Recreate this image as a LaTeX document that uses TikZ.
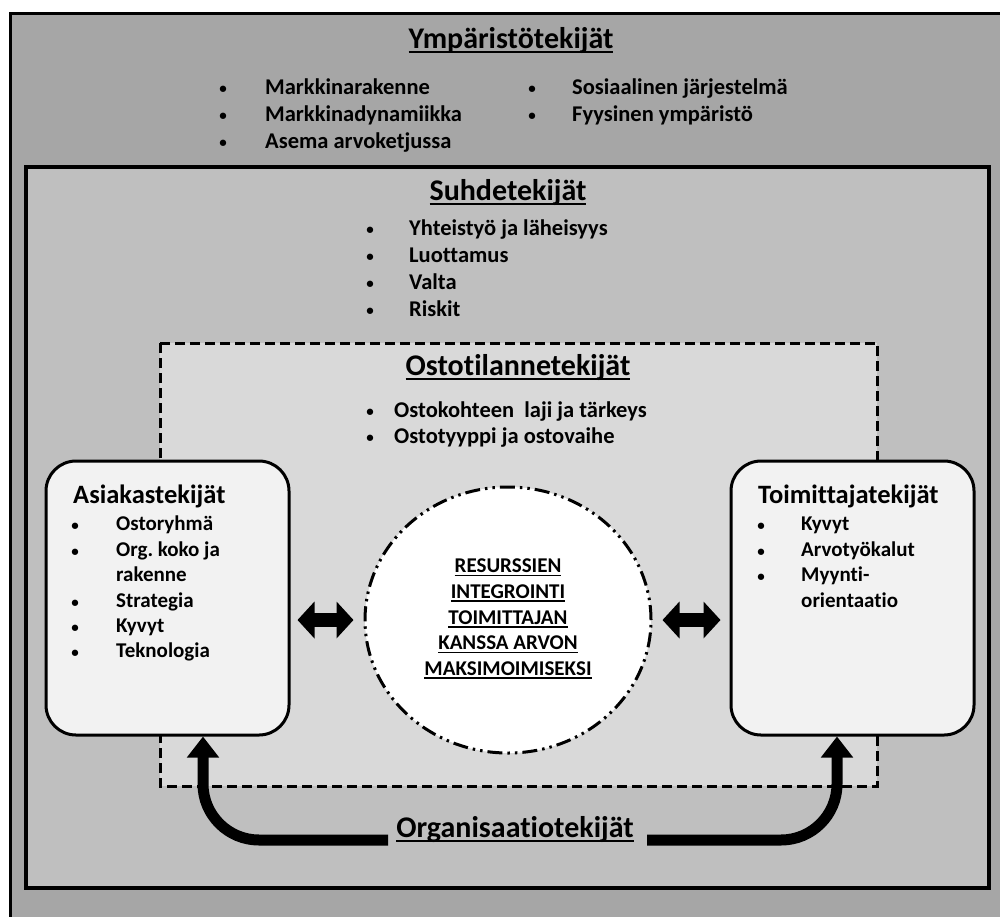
\documentclass[tikz,border=0pt]{standalone}
\usepackage{fontspec}
\setmainfont{Carlito}[Ligatures={NoCommon}]
\usetikzlibrary{arrows.meta,shapes.geometric}
\frenchspacing

% underline drawn as a rule at a fixed depth below the baseline
\newsavebox\ulinebox
\newcommand\ulined[1]{\sbox\ulinebox{#1}\rlap{\rule[-0.16em]{\wd\ulinebox}{0.075em}}\usebox\ulinebox}

\definecolor{envgray}{HTML}{A6A6A6}
\definecolor{relgray}{HTML}{BFBFBF}
\definecolor{sitgray}{HTML}{D9D9D9}
\definecolor{boxgray}{HTML}{F2F2F2}

\tikzset{
  head/.style={font=\bfseries\fontsize{30}{36}\selectfont, inner sep=0pt, text height=21pt, text depth=7pt, anchor=center},
  item/.style={font=\bfseries\fontsize{22.5}{27}\selectfont, inner sep=0pt, text height=15pt, text depth=5pt, anchor=west},
  boxitem/.style={font=\bfseries\fontsize{21}{25}\selectfont, inner sep=0pt, text height=14.5pt, text depth=5pt, anchor=west},
  boxhead/.style={font=\bfseries\fontsize{26.5}{31}\selectfont, inner sep=0pt, text height=18.5pt, text depth=6.5pt, anchor=west},
  coreline/.style={font=\bfseries\fontsize{21}{25}\selectfont, inner sep=0pt, text height=14.5pt, text depth=5pt, anchor=center},
  dot/.style={font=\bfseries\fontsize{15}{18}\selectfont, inner sep=0pt, text height=10pt, text depth=2pt, anchor=center},
  sidebox/.style={draw, line width=3pt, fill=boxgray, rounded corners=30pt, minimum width=243pt, minimum height=274pt, inner sep=0pt},
  dblarrow/.style={line width=14pt, {Triangle[length=17pt,width=36pt]}-{Triangle[length=17pt,width=36pt]}},
  orgarrow/.style={line width=11pt, rounded corners=56pt, -{Triangle[length=21pt,width=31pt]}},
}

\begin{document}
\begin{tikzpicture}[x=1pt, y=-1pt]
\clip (0,0) rectangle (1000,916);

% nested frames
\draw[line width=3pt, fill=envgray] (10,13) rectangle (1005,940);
\draw[line width=4pt, fill=relgray] (26,167) rectangle (989,888);
\draw[line width=3pt, fill=sitgray, dash pattern=on 10pt off 5pt] (160,343) rectangle (877,786);

% environment factors
\node[head] (envT) at (511,41) {\ulined{Ympäristötekijät}};
\foreach \t [count=\i] in {Markkinarakenne, Markkinadynamiikka, Asema arvoketjussa} {
  \node[dot] (envD\i) at (223,{89+27*(\i-1)}) {•};
  \node[item] (envA\i) at (265,{89+27*(\i-1)}) {\t};
}
\foreach \t [count=\i] in {Sosiaalinen järjestelmä, Fyysinen ympäristö} {
  \node[dot] (envE\i) at (532,{89+27*(\i-1)}) {•};
  \node[item] (envB\i) at (572,{89+27*(\i-1)}) {\t};
}

% relationship factors
\node[head] (relT) at (508,193) {\ulined{Suhdetekijät}};
\foreach \t [count=\i] in {Yhteistyö ja läheisyys, Luottamus, Valta, Riskit} {
  \node[dot] (relD\i) at (370,{230+27.3*(\i-1)}) {•};
  \node[item] (relA\i) at (409,{230+27.3*(\i-1)}) {\t};
}

% purchase situation factors
\node[head] (sitT) at (518,368) {\ulined{Ostotilannetekijät}};
\node[dot] (sitD1) at (370,412) {•};
\node[item] (sitA1) at (394,412) {Ostokohteen\ \ laji ja tärkeys};
\node[dot] (sitD2) at (370,438) {•};
\node[item] (sitA2) at (394,438) {Ostotyyppi ja ostovaihe};

% customer and supplier boxes
\node[sidebox] (lbox) at (167.5,598) {};
\node[sidebox] (rbox) at (852.5,598) {};

\node[boxhead] (custT) at (73,497) {Asiakastekijät};
\node[dot] (custD1) at (75,526) {•};  \node[boxitem] (custA1) at (116,526) {Ostoryhmä};
\node[dot] (custD2) at (75,552) {•};  \node[boxitem] (custA2) at (116,552) {Org. koko ja};
                                       \node[boxitem] (custA2b) at (116,577) {rakenne};
\node[dot] (custD3) at (75,603) {•};  \node[boxitem] (custA3) at (116,603) {Strategia};
\node[dot] (custD4) at (75,628) {•};  \node[boxitem] (custA4) at (116,628) {Kyvyt};
\node[dot] (custD5) at (75,653) {•};  \node[boxitem] (custA5) at (116,653) {Teknologia};

\node[boxhead] (supT) at (758,497) {Toimittajatekijät};
\node[dot] (supD1) at (761,526) {•};  \node[boxitem] (supA1) at (801,526) {Kyvyt};
\node[dot] (supD2) at (761,552) {•};  \node[boxitem] (supA2) at (801,552) {Arvotyökalut};
\node[dot] (supD3) at (761,577) {•};  \node[boxitem] (supA3) at (801,577) {Myynti-};
                                       \node[boxitem] (supA3b) at (801,603) {orientaatio};

% resource integration core
\node[ellipse, draw, line width=3pt, fill=white, minimum width=286pt, minimum height=266pt, inner sep=0pt,
      dash pattern=on 15pt off 5pt on 2.5pt off 5pt on 2.5pt off 5pt] (core) at (508,620) {};
\foreach \t [count=\i] in {RESURSSIEN, INTEGROINTI, TOIMITTAJAN, KANSSA ARVON, MAKSIMOIMISEKSI} {
  \node[coreline] (coreL\i) at (508,{568+25.7*(\i-1)}) {\ulined{\t}};
}

% two-way links
\draw[dblarrow] ([xshift=7pt]lbox.east |- core.west) -- ([xshift=-10pt]core.west);
\draw[dblarrow] ([xshift=10pt]core.east) -- ([xshift=-9pt]rbox.west |- core.east);

% organisational factors feeding both parties
\node[head] (orgT) at (515,830) {\ulined{Organisaatiotekijät}};
\coordinate (orgL) at (388,840);
\coordinate (orgR) at (647,840);
\draw[orgarrow] (orgL) -| ([xshift=35.5pt]lbox.south);
\draw[orgarrow] (orgR) -| ([xshift=-15.5pt]rbox.south);
\end{tikzpicture}
\end{document}
